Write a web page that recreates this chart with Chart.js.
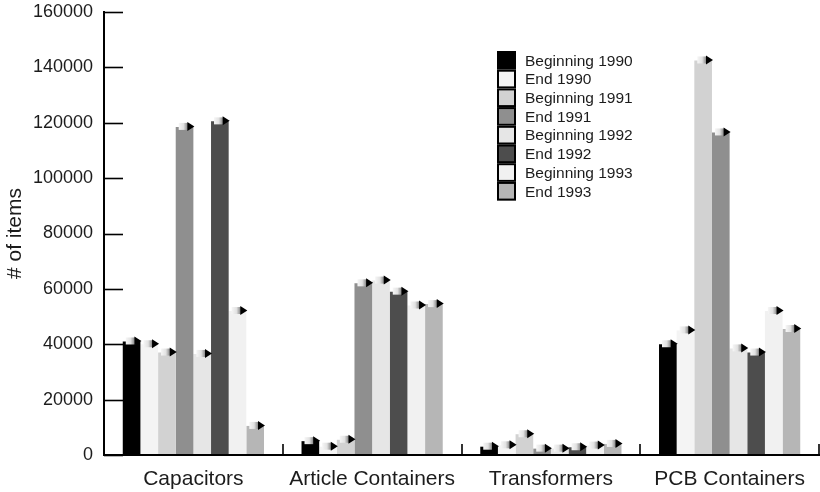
<!DOCTYPE html>
<html>
<head>
<meta charset="utf-8">
<script src="https://cdn.jsdelivr.net/npm/chart.js@4.4.1/dist/chart.umd.min.js"></script>
<style>
  html, body { margin: 0; padding: 0; background: #fff; }
  #wrap { width: 820px; height: 492px; position: relative; }
</style>
</head>
<body>
<div id="wrap"><canvas id="c" width="820" height="492"></canvas></div>
<script>
// ---- data ----
const categories = ['Capacitors', 'Article Containers', 'Transformers', 'PCB Containers'];
const seriesLabels = ['Beginning 1990', 'End 1990', 'Beginning 1991', 'End 1991',
                      'Beginning 1992', 'End 1992', 'Beginning 1993', 'End 1993'];
const begin1990 = [41000, 5000, 3000, 40000];
const end1990   = [40000, 3000, 3500, 45000];
const begin1991 = [37000, 5500, 7500, 142500];
const end1991   = [118500, 62000, 2300, 116500];
const begin1992 = [36500, 63000, 2300, 38500];
const end1992   = [120500, 59000, 2800, 37000];
const begin1993 = [52000, 54000, 3400, 52000];
const end1993   = [10500, 54500, 4000, 45500];
const yTicks = [0, 20000, 40000, 60000, 80000, 100000, 120000, 140000, 160000];

const seriesValues = [begin1990, end1990, begin1991, end1991, begin1992, end1992, begin1993, end1993];
const seriesColors = ['#000000', '#f4f4f4', '#d2d2d2', '#8f8f8f', '#e6e6e6', '#4d4d4d', '#f1f1f1', '#b6b6b6'];

const FONT = '"Liberation Sans", Arial, Helvetica, sans-serif';
const INK = '#1c1c1c';

// axis lines, inner ticks, bar caps and legend
const decor = {
  id: 'decor',
  afterDatasetsDraw(chart) {
    const ctx = chart.ctx;
    const ca = chart.chartArea;
    const y = chart.scales.y, x = chart.scales.x;
    ctx.save();
    // caps on bar tops
    chart.data.datasets.forEach((ds, di) => {
      const meta = chart.getDatasetMeta(di);
      meta.data.forEach(el => {
        const w = el.width;
        const l = el.x - w / 2, r = el.x + w / 2, t = el.y;
        const g = ctx.createLinearGradient(l + 3, 0, r - 4, 0);
        g.addColorStop(0, '#f6f6f6');
        g.addColorStop(0.45, '#e2e2e2');
        g.addColorStop(0.75, '#9a9a9a');
        g.addColorStop(1, '#6a6a6a');
        ctx.fillStyle = g;
        ctx.fillRect(l + 3, t - 4, w - 8, 7);
        ctx.fillStyle = '#000';
        ctx.beginPath();
        ctx.moveTo(r - 6, t - 5);
        ctx.lineTo(r + 1, t - 0.5);
        ctx.lineTo(r - 6, t + 4);
        ctx.closePath();
        ctx.fill();
      });
    });
    // y axis line
    ctx.strokeStyle = '#000';
    ctx.lineWidth = 2;
    ctx.beginPath();
    ctx.moveTo(ca.left, ca.top - 1);
    ctx.lineTo(ca.left, ca.bottom + 1);
    ctx.stroke();
    // y ticks pointing inward
    ctx.lineWidth = 1.6;
    yTicks.forEach(v => {
      const py = Math.round(y.getPixelForValue(v)) + 0.5;
      ctx.beginPath();
      ctx.moveTo(ca.left, py);
      ctx.lineTo(ca.left + 19, py);
      ctx.stroke();
    });
    // x axis line
    ctx.lineWidth = 2;
    ctx.beginPath();
    ctx.moveTo(ca.left, ca.bottom);
    ctx.lineTo(ca.right + 1, ca.bottom);
    ctx.stroke();
    // category boundary ticks pointing up
    ctx.lineWidth = 1.6;
    for (let i = 0; i < categories.length; i++) {
      const px = Math.round(x.getPixelForValue(i) + (x.getPixelForValue(1) - x.getPixelForValue(0)) / 2);
      ctx.beginPath();
      ctx.moveTo(px, ca.bottom);
      ctx.lineTo(px, ca.bottom - 11);
      ctx.stroke();
    }
    // legend
    const bx = 497, by = 51, bw = 19, bh = 18.7;
    ctx.font = '15.5px ' + FONT;
    ctx.textBaseline = 'middle';
    ctx.textAlign = 'left';
    chart.data.datasets.forEach((ds, i) => {
      const top = by + i * bh;
      ctx.fillStyle = ds.backgroundColor;
      ctx.fillRect(bx, top, bw, bh);
      ctx.strokeStyle = '#000';
      ctx.lineWidth = 2;
      ctx.strokeRect(bx + 1, top + 1, bw - 2, bh - 2);
      ctx.fillStyle = INK;
      ctx.fillText(ds.label, bx + 28, top + bh / 2 + 1);
    });
    ctx.restore();
  }
};

new Chart(document.getElementById('c'), {
  type: 'bar',
  data: {
    labels: categories,
    datasets: seriesLabels.map((lab, i) => ({
      label: lab,
      data: seriesValues[i],
      backgroundColor: seriesColors[i],
      borderWidth: 0,
      barPercentage: 1.0,
      categoryPercentage: 0.79
    }))
  },
  options: {
    responsive: false,
    animation: false,
    events: [],
    layout: { padding: { top: 12, right: 1, left: 0, bottom: 0 } },
    plugins: { legend: { display: false }, tooltip: { enabled: false } },
    scales: {
      x: {
        grid: { display: false, drawTicks: false },
        border: { display: false },
        ticks: { color: INK, font: { family: FONT, size: 21 }, padding: 12, maxRotation: 0, autoSkip: false },
        afterFit(s) { s.height = 37; s.paddingLeft = 0; s.paddingRight = 0; }
      },
      y: {
        min: 0, max: 160000,
        grid: { display: false, drawTicks: false },
        border: { display: false },
        ticks: {
          stepSize: 20000, padding: 11, color: INK,
          font: { family: FONT, size: 18 },
          callback: v => String(v)
        },
        title: { display: true, text: '# of items', color: INK, font: { family: FONT, size: 21 }, padding: { top: 3, bottom: 0 } },
        afterFit(s) { s.width = 104; s.paddingTop = 0; s.paddingBottom = 0; }
      }
    }
  },
  plugins: [decor]
});
</script>
</body>
</html>
